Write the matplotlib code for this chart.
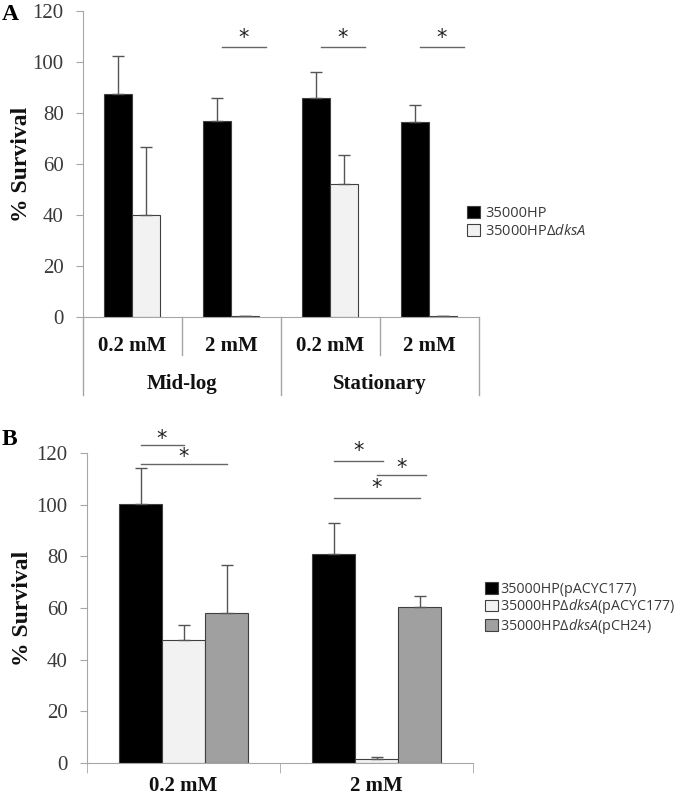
import numpy as np
import matplotlib
matplotlib.use('Agg')
import matplotlib.pyplot as plt
from matplotlib.patches import Patch
from matplotlib.transforms import blended_transform_factory

plt.rcParams['mathtext.fontset'] = 'custom'
plt.rcParams['mathtext.it'] = 'Open Sans:italic'
plt.rcParams['mathtext.rm'] = 'Open Sans'

# ---- panel A data ----
a_conc = ['0.2 mM', '2 mM', '0.2 mM', '2 mM']
a_phase = ['Mid-log', 'Stationary']
a_labels = ['35000HP', '35000HP\u0394$\\it{dksA}$']
a_wt = [87.5, 77.0, 86.0, 76.5]
a_wt_err = [15.0, 9.0, 10.2, 6.8]
a_mut = [40.0, 0.2, 52.0, 0.2]
a_mut_err = [26.5, 0.0, 11.5, 0.0]
a_sig = [(1, 106.0), (2, 106.0), (3, 106.0)]  # category, height

# ---- panel B data ----
b_conc = ['0.2 mM', '2 mM']
b_labels = ['35000HP(pACYC177)', '35000HP\u0394$\\it{dksA}$(pACYC177)',
            '35000HP\u0394$\\it{dksA}$(pCH24)']
b_vals = [[100.2, 81.0], [47.5, 1.7], [58.0, 60.5]]
b_errs = [[13.8, 12.0], [6.0, 0.6], [18.5, 4.0]]
# (category, from bar, to bar, line height, star height)
b_sig = [(0, 0, 1, 123.1, 125.6), (0, 0, 2, 115.6, 118.6),
         (1, 0, 1, 116.8, 120.6), (1, 1, 2, 111.6, 114.0),
         (1, 0, 2, 102.5, 106.5)]

serif = 'Liberation Serif'
sans = ['Open Sans', 'DejaVu Sans']
axcol = '#a6a6a6'
txtcol = '#3a3a3a'
edge = '#404040'
errcol = '#555555'

fig = plt.figure(figsize=(6.8, 7.94), dpi=100)


def style_y(ax, lx):
    ax.set_ylim(0, 120)
    ax.set_yticks(range(0, 121, 20))
    for s in ['top', 'right']:
        ax.spines[s].set_visible(False)
    ax.spines['left'].set_color(axcol)
    ax.spines['bottom'].set_color(axcol)
    ax.tick_params(axis='y', direction='out', length=5, color=axcol, pad=9,
                   labelsize=15, labelcolor=txtcol)
    for t in ax.get_yticklabels():
        t.set_fontfamily(serif)
    ax.set_ylabel('% Survival', fontfamily=serif, fontweight='bold', fontsize=17,
                  color='#111111')
    ax.yaxis.set_label_coords(lx, 0.5)


# ================= panel A =================
axA = fig.add_axes([0.122, 0.6008, 0.582, 0.3852])
x = np.arange(len(a_conc))
w = 0.283
axA.bar(x - w / 2, a_wt, w, color='black', edgecolor=edge, linewidth=0.8,
        yerr=[np.zeros(4), a_wt_err], error_kw=dict(ecolor=errcol, capsize=4, elinewidth=1, capthick=1))
axA.bar(x + w / 2, a_mut, w, color='#f2f2f2', edgecolor=edge, linewidth=0.8,
        yerr=[np.zeros(4), a_mut_err], error_kw=dict(ecolor=errcol, capsize=4, elinewidth=1, capthick=1))
axA.set_xlim(-0.5, 3.5)
style_y(axA, -0.128)
axA.set_xticks([])
trA = blended_transform_factory(axA.transData, axA.transAxes)
for xs, y0 in [(-0.5, -0.255), (0.5, -0.124), (1.5, -0.255), (2.5, -0.124), (3.5, -0.255)]:
    axA.plot([xs, xs], [0, y0], color=axcol, lw=1, transform=trA, clip_on=False)
for i, c in enumerate(a_conc):
    axA.text(i, -0.094, c, transform=trA, ha='center', va='center', fontfamily=serif,
             fontweight='bold', fontsize=15, color='#111111')
for j, p in enumerate(a_phase):
    axA.text(2 * j + 0.5, -0.218, p, transform=trA, ha='center', va='center', fontfamily=serif,
             fontweight='bold', fontsize=15, color='#111111')
for c, h in a_sig:
    axA.plot([c - 0.096, c + 0.35], [h, h], color='#666666', lw=1, clip_on=False)
    axA.text(c + 0.127, h + 3.5, '*', ha='center', va='center', fontfamily='DejaVu Sans',
             fontsize=15, color='#222222')
axA.text(-0.184, 0.99, 'A', transform=axA.transAxes, fontfamily=serif, fontweight='bold',
         fontsize=17, ha='center', va='center')
handlesA = [Patch(facecolor='black', edgecolor=edge, lw=0.8),
            Patch(facecolor='#f2f2f2', edgecolor=edge, lw=0.8)]
legA = fig.legend(handlesA, a_labels, loc='upper left', bbox_to_anchor=(0.668, 0.757),
                  frameon=False, handlelength=0.9, handleheight=0.9, handletextpad=0.3,
                  labelspacing=0.2, prop={'family': sans, 'size': 10.5})
for t in legA.get_texts():
    t.set_color(txtcol)

# ================= panel B =================
axB = fig.add_axes([0.128, 0.039, 0.568, 0.3905])
xb = np.arange(len(b_conc))
wb = 0.223
colorsB = ['black', '#f2f2f2', '#a0a0a0']
for k in range(3):
    axB.bar(xb + (k - 1) * wb, b_vals[k], wb, color=colorsB[k], edgecolor=edge, linewidth=0.8,
            yerr=[np.zeros(2), b_errs[k]],
            error_kw=dict(ecolor=errcol, capsize=4, elinewidth=1, capthick=1))
axB.set_xlim(-0.5, 1.5)
style_y(axB, -0.14)
axB.set_xticks([-0.5, 0.5, 1.5], minor=True)
axB.set_xticks(xb)
axB.set_xticklabels(b_conc, fontfamily=serif, fontweight='bold', fontsize=15, color='#111111')
axB.tick_params(axis='x', which='major', length=0, pad=9)
axB.tick_params(axis='x', which='minor', direction='out', length=7, color=axcol)
for c, b0, b1, h, hs in b_sig:
    x0 = c + (b0 - 1) * wb
    x1 = c + (b1 - 1) * wb + 0.03 * (b1 - b0 == 1 and c == 1)
    axB.plot([x0, x1], [h, h], color='#666666', lw=1, clip_on=False)
    axB.text((x0 + x1) / 2, hs, '*', ha='center', va='center', fontfamily='DejaVu Sans',
             fontsize=15, color='#222222')
axB.text(-0.2, 1.042, 'B', transform=axB.transAxes, fontfamily=serif, fontweight='bold',
         fontsize=17, ha='center', va='center')
handlesB = [Patch(facecolor=c, edgecolor=edge, lw=0.8) for c in colorsB]
legB = fig.legend(handlesB, b_labels, loc='upper left', bbox_to_anchor=(0.695, 0.283),
                  frameon=False, handlelength=0.9, handleheight=0.9, handletextpad=0.12,
                  labelspacing=0.02, prop={'family': sans, 'size': 10.3})
for t in legB.get_texts():
    t.set_color(txtcol)

fig.savefig('out.png', dpi=100)
